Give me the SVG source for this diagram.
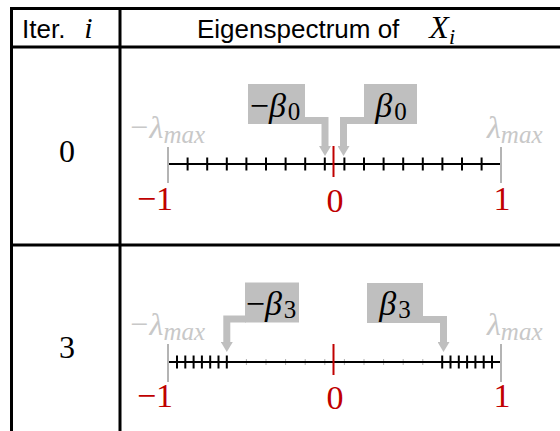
<svg xmlns="http://www.w3.org/2000/svg" width="560" height="431" viewBox="0 0 560 431">
<style>
.grid{stroke:#000;stroke-width:3;fill:none}
.hdr{font-family:"Liberation Sans",Arial,sans-serif;font-size:26px;fill:#000}
.mi{font-family:"Liberation Serif","Times New Roman",serif;font-style:italic}
.num{font-family:"Liberation Serif","Times New Roman",serif;font-size:32px;fill:#000;text-anchor:middle}
.red{font-family:"Liberation Serif","Times New Roman",serif;font-size:34px;fill:#c00000;text-anchor:middle}
.lam{font-family:"Liberation Serif","Times New Roman",serif;font-style:italic;font-size:32px;fill:#c8c8c8}
.sub{font-size:25px}
.beta{font-family:"Liberation Serif","Times New Roman",serif;font-size:34px;fill:#000;text-anchor:middle}
.box{fill:#bfbfbf}
.lead{fill:none;stroke:#bfbfbf;stroke-width:7;stroke-linejoin:miter}
.axis{stroke:#000;stroke-width:2}
.tk{stroke:#000;stroke-width:2}
.end{stroke:#b4b4b4;stroke-width:2}
.zero{stroke:#c00000;stroke-width:2}
.faint{stroke:#b0b0b0;stroke-width:1}
</style>
<defs>
<marker id="ah" markerUnits="userSpaceOnUse" markerWidth="12" markerHeight="12" refX="0" refY="6" orient="auto" viewBox="0 0 10 12">
<path d="M0,0 L10,6 L0,12 z" fill="#bfbfbf"/>
</marker>
</defs>
<rect width="560" height="431" fill="#fff"/>

<g id="table">
<line class="grid" x1="10" y1="8.5" x2="560" y2="8.5"/>
<line class="grid" x1="10" y1="47" x2="560" y2="47"/>
<line class="grid" x1="10" y1="245" x2="560" y2="245"/>
<line class="grid" x1="11.5" y1="7" x2="11.5" y2="431"/>
<line class="grid" x1="120" y1="7" x2="120" y2="431"/>
</g>

<g id="header">
<text class="hdr" x="22" y="38">Iter.<tspan class="mi" font-size="30" dx="19">i</tspan></text>
<text class="hdr" x="197" y="38">Eigenspectrum of<tspan class="mi" font-size="32" dx="30">X</tspan><tspan class="mi" font-size="22" dy="6">i</tspan></text>
</g>

<g id="row0">
<text class="num" x="67" y="162">0</text>
<line class="axis" x1="168" y1="164" x2="501" y2="164"/>
<g class="tk">
<line x1="187.6" y1="157.5" x2="187.6" y2="170.5"/>
<line x1="207.2" y1="157.5" x2="207.2" y2="170.5"/>
<line x1="226.8" y1="157.5" x2="226.8" y2="170.5"/>
<line x1="246.4" y1="157.5" x2="246.4" y2="170.5"/>
<line x1="266" y1="157.5" x2="266" y2="170.5"/>
<line x1="285.6" y1="157.5" x2="285.6" y2="170.5"/>
<line x1="305.2" y1="157.5" x2="305.2" y2="170.5"/>
<line x1="324.8" y1="157.5" x2="324.8" y2="170.5"/>
<line x1="344.4" y1="157.5" x2="344.4" y2="170.5"/>
<line x1="364" y1="157.5" x2="364" y2="170.5"/>
<line x1="383.6" y1="157.5" x2="383.6" y2="170.5"/>
<line x1="403.2" y1="157.5" x2="403.2" y2="170.5"/>
<line x1="422.8" y1="157.5" x2="422.8" y2="170.5"/>
<line x1="442.4" y1="157.5" x2="442.4" y2="170.5"/>
<line x1="462" y1="157.5" x2="462" y2="170.5"/>
<line x1="481.6" y1="157.5" x2="481.6" y2="170.5"/>
</g>
<line class="end" x1="168" y1="147" x2="168" y2="183"/>
<line class="end" x1="501" y1="147" x2="501" y2="183"/>
<line class="zero" x1="333.5" y1="146" x2="333.5" y2="177"/>
<text class="lam" x="128" y="138">−λ<tspan class="sub" dy="5">max</tspan></text>
<text class="lam" x="487" y="138">λ<tspan class="sub" dy="5">max</tspan></text>
<text class="red" x="155" y="210">−1</text>
<text class="red" x="335" y="212">0</text>
<text class="red" x="502" y="210">1</text>
<g id="b0neg">
<rect class="box" x="248" y="84" width="57" height="40"/>
<path class="lead" d="M304,120.5 H325 V146" marker-end="url(#ah)"/>
<text class="beta" x="275" y="117">−<tspan class="mi">β</tspan><tspan font-size="25" dx="2" dy="3">0</tspan></text>
</g>
<g id="b0pos">
<rect class="box" x="364" y="84" width="53" height="40"/>
<path class="lead" d="M365,120.5 H343.5 V146" marker-end="url(#ah)"/>
<text class="beta" x="391" y="117"><tspan class="mi">β</tspan><tspan font-size="25" dx="2" dy="3">0</tspan></text>
</g>
</g>

<g id="row3">
<text class="num" x="67" y="358">3</text>
<g class="faint">
<line x1="246.4" y1="359" x2="246.4" y2="365"/>
<line x1="266" y1="359" x2="266" y2="365"/>
<line x1="285.6" y1="359" x2="285.6" y2="365"/>
<line x1="305.2" y1="359" x2="305.2" y2="365"/>
<line x1="324.8" y1="359" x2="324.8" y2="365"/>
<line x1="344.4" y1="359" x2="344.4" y2="365"/>
<line x1="364" y1="359" x2="364" y2="365"/>
<line x1="383.6" y1="359" x2="383.6" y2="365"/>
<line x1="403.2" y1="359" x2="403.2" y2="365"/>
<line x1="422.8" y1="359" x2="422.8" y2="365"/>
</g>
<line class="axis" x1="168" y1="362" x2="501" y2="362"/>
<g class="tk">
<line x1="177" y1="355.5" x2="177" y2="368.5"/>
<line x1="185.3" y1="355.5" x2="185.3" y2="368.5"/>
<line x1="193.6" y1="355.5" x2="193.6" y2="368.5"/>
<line x1="201.9" y1="355.5" x2="201.9" y2="368.5"/>
<line x1="210.2" y1="355.5" x2="210.2" y2="368.5"/>
<line x1="218.5" y1="355.5" x2="218.5" y2="368.5"/>
<line x1="226.8" y1="355.5" x2="226.8" y2="368.5"/>
<line x1="442.2" y1="355.5" x2="442.2" y2="368.5"/>
<line x1="450.5" y1="355.5" x2="450.5" y2="368.5"/>
<line x1="458.8" y1="355.5" x2="458.8" y2="368.5"/>
<line x1="467.1" y1="355.5" x2="467.1" y2="368.5"/>
<line x1="475.4" y1="355.5" x2="475.4" y2="368.5"/>
<line x1="483.7" y1="355.5" x2="483.7" y2="368.5"/>
<line x1="492" y1="355.5" x2="492" y2="368.5"/>
</g>
<line class="end" x1="168" y1="344" x2="168" y2="382"/>
<line class="end" x1="501" y1="344" x2="501" y2="382"/>
<line class="zero" x1="333.5" y1="344" x2="333.5" y2="375"/>
<text class="lam" x="128" y="335">−λ<tspan class="sub" dy="5">max</tspan></text>
<text class="lam" x="487" y="335">λ<tspan class="sub" dy="5">max</tspan></text>
<text class="red" x="155" y="407">−1</text>
<text class="red" x="335" y="409">0</text>
<text class="red" x="502" y="407">1</text>
<g id="b3neg">
<rect class="box" x="245" y="282.5" width="54" height="40"/>
<path class="lead" d="M246,319 H226.8 V342" marker-end="url(#ah)"/>
<text class="beta" x="271" y="315">−<tspan class="mi">β</tspan><tspan font-size="25" dx="2" dy="3">3</tspan></text>
</g>
<g id="b3pos">
<rect class="box" x="367" y="283" width="56" height="40"/>
<path class="lead" d="M422,319.5 H443.5 V342" marker-end="url(#ah)"/>
<text class="beta" x="395" y="315"><tspan class="mi">β</tspan><tspan font-size="25" dx="2" dy="3">3</tspan></text>
</g>
</g>
</svg>
